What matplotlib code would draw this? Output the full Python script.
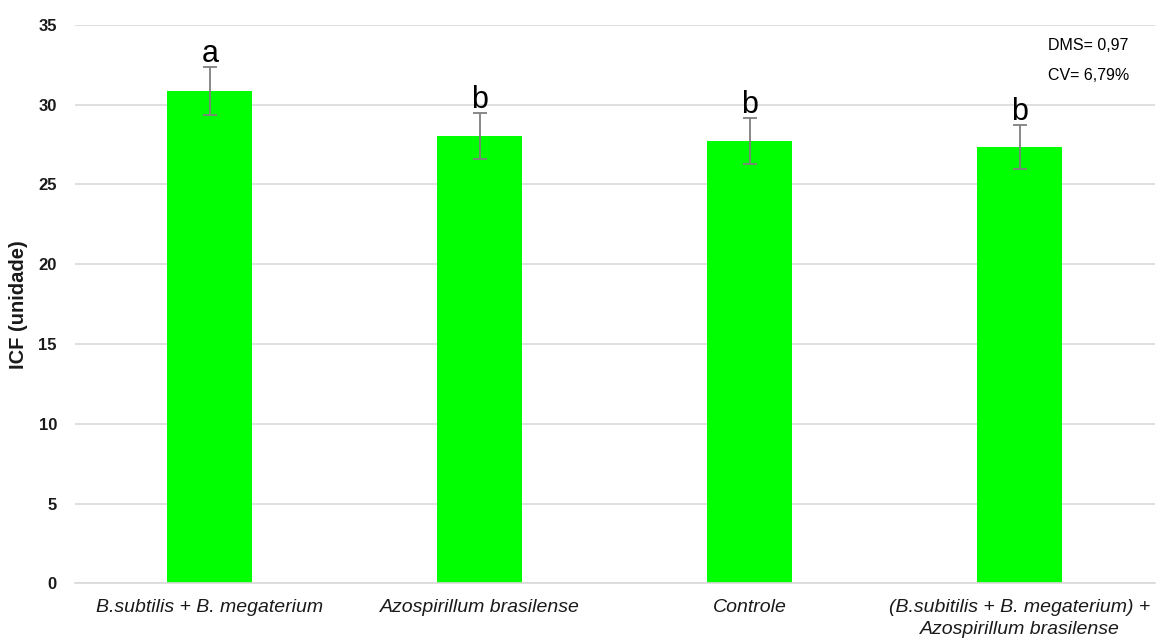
import numpy as np
import matplotlib.pyplot as plt

plt.rcParams['font.family'] = ['Liberation Sans', 'DejaVu Sans']

# dados do ensaio
tratamentos = ['B.subtilis + B. megaterium',
               'Azospirillum brasilense',
               'Controle',
               '(B.subitilis + B. megaterium) +\nAzospirillum brasilense']
icf = [30.86, 28.04, 27.73, 27.35]
erro = [1.52, 1.43, 1.44, 1.40]
letras = ['a', 'b', 'b', 'b']

fig = plt.figure(figsize=(11.58, 6.39), dpi=100)
ax = fig.add_axes([0.0648, 0.0869, 0.9322, 0.8744])

x = np.arange(len(tratamentos))
ax.bar(x, icf, width=0.315, color='#00ff00', zorder=2)
ax.errorbar(x, icf, yerr=erro, fmt='none', ecolor='#7f7f7f',
            elinewidth=1.3, capsize=5, capthick=1.3, zorder=3)

# letras do teste de médias
for xi, v, e, l in zip(x, icf, erro, letras):
    ax.annotate(l, (xi, v + e), xytext=(0, 3.5), textcoords='offset points',
                ha='center', va='baseline', fontsize=22)

ax.set_xlim(-0.5, len(tratamentos) - 0.5)
ax.set_ylim(0, 35)
ax.set_yticks(np.arange(0, 36, 5))
ax.yaxis.grid(True, color='#d9d9d9', linewidth=1.2, zorder=0)
ax.set_axisbelow(True)
for s in ['top', 'right', 'left']:
    ax.spines[s].set_visible(False)
ax.spines['bottom'].set_color('#d9d9d9')
ax.spines['bottom'].set_linewidth(1.2)
ax.tick_params(axis='both', length=0)
ax.tick_params(axis='y', pad=13)
ax.tick_params(axis='x', pad=11)

ax.set_xticks(x)
ax.set_xticklabels(tratamentos, fontsize=14, style='italic', color='#1a1a1a',
                   linespacing=1.4)
for t in ax.get_yticklabels():
    t.set_fontweight('bold')
    t.set_fontsize(12)
    t.set_color('#1a1a1a')

fig.text(19 / 1158, 1 - 305 / 639, 'ICF (unidade)', rotation=90,
         ha='center', va='center', fontsize=14.5, fontweight='bold',
         color='#1a1a1a')

fig.text(1048 / 1158, 1 - 46 / 639, 'DMS= 0,97', ha='left', va='center',
         fontsize=11.5)
fig.text(1048 / 1158, 1 - 76 / 639, 'CV= 6,79%', ha='left', va='center',
         fontsize=11.5)

fig.savefig('out.png', dpi=100)
